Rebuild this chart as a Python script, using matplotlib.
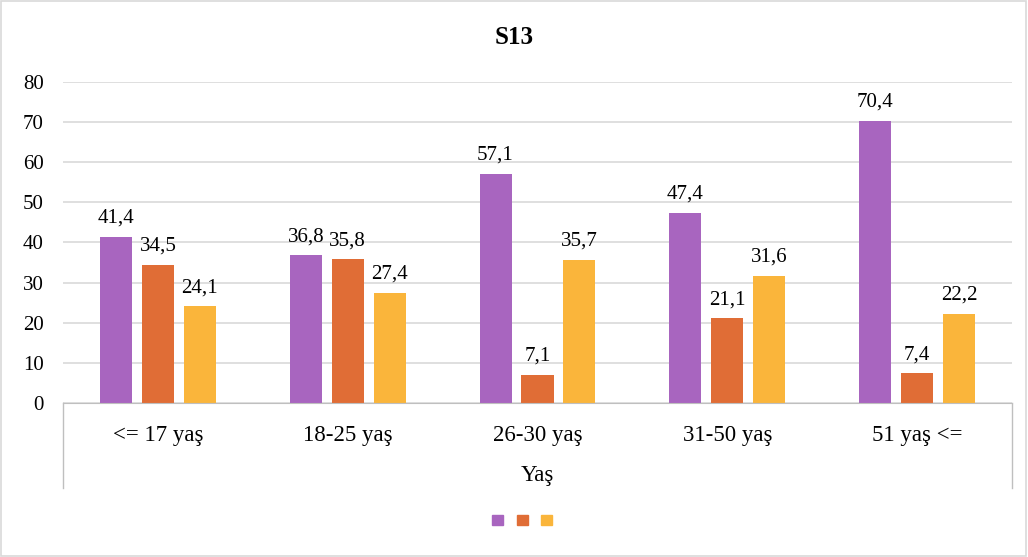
import numpy as np
import matplotlib.pyplot as plt
from matplotlib.patches import Patch, Rectangle

plt.rcParams['font.family'] = ['Liberation Serif', 'DejaVu Serif']

categories = ['<= 17 yaş', '18-25 yaş', '26-30 yaş', '31-50 yaş', '51 yaş <=']
series_a = [41.4, 36.8, 57.1, 47.4, 70.4]
series_b = [34.5, 35.8, 7.1, 21.1, 7.4]
series_c = [24.1, 27.4, 35.7, 31.6, 22.2]
colors = ['#A865BF', '#E06D36', '#FAB53B']


def fmt(v):
    return ('%.1f' % v).replace('.', ',')


def main():
    fig = plt.figure(figsize=(10.28, 5.57), dpi=100)
    ax = fig.add_axes([0.0613, 0.2765, 0.9231, 0.5763])

    x = np.arange(len(categories))
    w = 0.169
    step = 0.221
    for i, (vals, c) in enumerate(zip([series_a, series_b, series_c], colors)):
        pos = x + (i - 1) * step
        bars = ax.bar(pos, vals, width=w, color=c, zorder=3)
        for b, v in zip(bars, vals):
            ax.text(b.get_x() + b.get_width() / 2, v + 2.3, fmt(v),
                    ha='center', va='bottom', fontsize=15)

    ax.set_xlim(-0.5, len(categories) - 0.5)
    ax.set_ylim(0, 80)
    ax.set_yticks(range(0, 81, 10))
    ax.tick_params(axis='y', length=0, labelsize=15, pad=14)
    ax.tick_params(axis='x', length=0)
    ax.set_xticks([])
    ax.yaxis.grid(True, color='#D9D9D9', linewidth=1.2)
    ax.set_axisbelow(True)
    for s in ['top', 'right', 'left']:
        ax.spines[s].set_visible(False)
    ax.spines['bottom'].set_color('#BFBFBF')
    ax.spines['bottom'].set_zorder(4)

    # category box under axis
    for xx in [0, 1]:
        ax.plot([xx, xx], [0, -0.265], transform=ax.transAxes,
                color='#BFBFBF', linewidth=1, clip_on=False)
    for xi, lab in zip(x, categories):
        ax.text(xi, -0.10, lab, transform=ax.get_xaxis_transform(),
                ha='center', va='center', fontsize=16.5)
    ax.text(0.5, -0.225, 'Yaş', transform=ax.transAxes,
            ha='center', va='center', fontsize=16.5)

    fig.text(0.5, 0.932, 'S13', ha='center', va='center',
             fontsize=18, fontweight='bold')

    handles = [Patch(color=c) for c in colors]
    fig.legend(handles, ['', '', ''], loc='center', bbox_to_anchor=(0.508, 0.064),
               ncol=3, frameon=False, handlelength=0.8, handleheight=0.8,
               columnspacing=0.95, handletextpad=0.0)

    fig.patches.append(Rectangle((0.001, 0.001), 0.997, 0.997, transform=fig.transFigure,
                                 fill=False, edgecolor='#D9D9D9', linewidth=1.2))

    fig.savefig('out.png', dpi=100)


if __name__ == '__main__':
    main()
